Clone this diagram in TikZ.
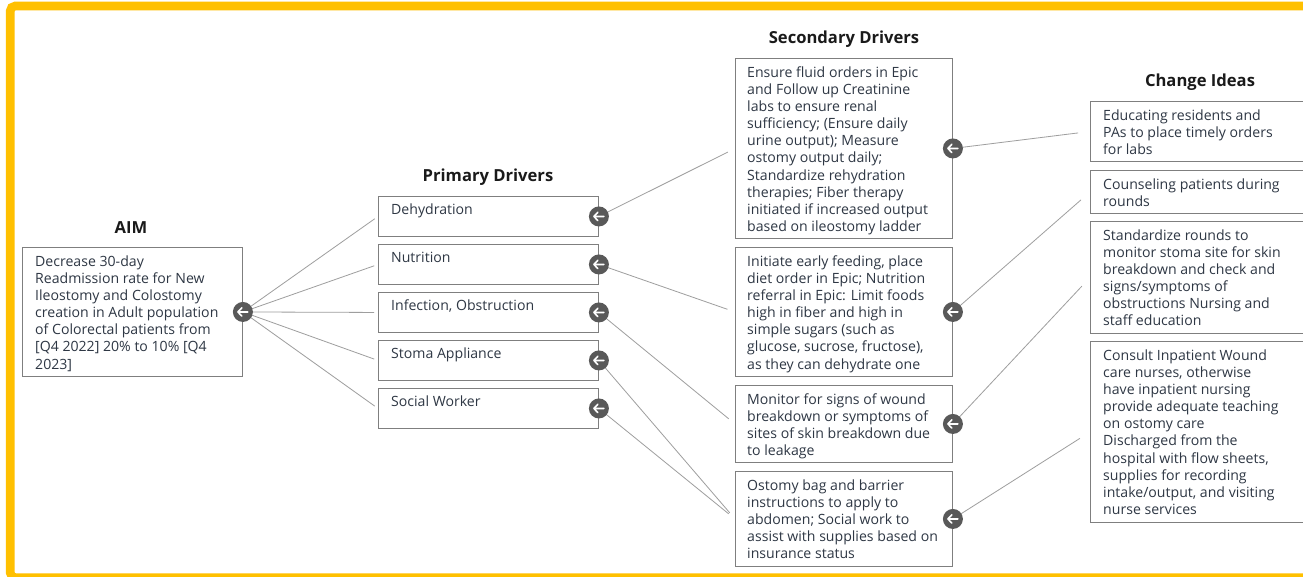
\documentclass[tikz,border=0pt]{standalone}
\usepackage{fontspec}
\setmainfont{Open Sans}
\usetikzlibrary{calc}
\definecolor{frameyellow}{HTML}{FFC000}
\definecolor{boxgray}{HTML}{7F7F7F}
\definecolor{linegray}{HTML}{9E9E9E}
\definecolor{dotgray}{HTML}{595959}
\definecolor{bodytext}{HTML}{2E3744}
\definecolor{headtext}{HTML}{1A1A1A}
\tikzset{
  box/.style={draw=boxgray, line width=0.9pt, fill=white, rectangle, inner sep=0pt, anchor=north west},
  txt/.style={anchor=north west, inner sep=0pt, align=left, text=bodytext, font=\fontsize{14.1}{17.1}\selectfont, execute at begin node=\strut},
  head/.style={anchor=center, inner sep=0pt, text=headtext, font=\fontsize{16.6}{19}\selectfont\bfseries},
  conn/.style={draw=linegray, line width=0.8pt},
  dot/.style={circle, fill=dotgray, minimum size=20pt, inner sep=0pt,
    path picture={
      \draw[white, line width=1.6pt, line cap=round, line join=round]
        ([xshift=5pt]path picture bounding box.center) -- ([xshift=-5pt]path picture bounding box.center)
        ([xshift=-1pt,yshift=4.2pt]path picture bounding box.center) -- ([xshift=-5pt]path picture bounding box.center) -- ([xshift=-1pt,yshift=-4.2pt]path picture bounding box.center);
    }},
}
\begin{document}
\begin{tikzpicture}[x=1pt,y=-1pt]
\useasboundingbox (0,0) rectangle (1303,576);
\clip (0,0) rectangle (1303,576);
\fill[white] (0,0) rectangle (1303,576);
% frame
\draw[frameyellow, line width=8.6pt, rounded corners=5pt] (1320,6) -- (10.2,6) -- (10.2,577.6) -- (1320,577.6);

% headings
\node[head] (haim) at (131,228) {AIM};
\node[head] (hprim) at (488,177) {Primary Drivers};
\node[head] (hsec) at (844,39) {Secondary Drivers};
\node[head] (hchg) at (1200,82) {Change Ideas};

% AIM box
\node[box, minimum width=220pt, minimum height=129pt] (aim) at (22,247) {};
\node[txt] (aimt) at ($(aim.north west)+(13,8.5)$) {Decrease 30-day\\Readmission rate for New\\Ileostomy and Colostomy\\creation in Adult population\\of Colorectal patients from\\{[Q4 2022]} 20\% to 10\% [Q4\\2023]};

% primary drivers
\node[box, minimum width=220pt, minimum height=40pt] (p1) at (378,196) {};
\node[box, minimum width=220pt, minimum height=40pt] (p2) at (378,244) {};
\node[box, minimum width=220pt, minimum height=40pt] (p3) at (378,292) {};
\node[box, minimum width=220pt, minimum height=40pt] (p4) at (378,340) {};
\node[box, minimum width=220pt, minimum height=40pt] (p5) at (378,388) {};
\node[txt] (p1t) at ($(p1.north west)+(13,6.5)$) {Dehydration};
\node[txt] (p2t) at ($(p2.north west)+(13,6.5)$) {Nutrition};
\node[txt] (p3t) at ($(p3.north west)+(13,6.5)$) {Infection, Obstruction};
\node[txt] (p4t) at ($(p4.north west)+(13,6.5)$) {Stoma Appliance};
\node[txt] (p5t) at ($(p5.north west)+(13,6.5)$) {Social Worker};

% secondary drivers
\node[box, minimum width=217pt, minimum height=180pt] (s1) at (735,58) {};
\node[box, minimum width=217pt, minimum height=129pt] (s2) at (735,247) {};
\node[box, minimum width=217pt, minimum height=77pt] (s3) at (735,385) {};
\node[box, minimum width=217pt, minimum height=95pt] (s4) at (735,471) {};
\node[txt] (s1t) at ($(s1.north west)+(12,8.5)$) {Ensure fluid orders in Epic\\and Follow up Creatinine\\labs to ensure renal\\sufficiency; (Ensure daily\\urine output); Measure\\ostomy output daily;\\Standardize rehydration\\therapies; Fiber therapy\\initiated if increased output\\based on ileostomy ladder};
\node[txt] (s2t) at ($(s2.north west)+(12,8.5)$) {Initiate early feeding, place\\diet order in Epic; Nutrition\\referral in Epic: Limit foods\\high in fiber and high in\\simple sugars (such as\\glucose, sucrose, fructose),\\as they can dehydrate one};
\node[txt] (s3t) at ($(s3.north west)+(12,8.5)$) {Monitor for signs of wound\\breakdown or symptoms of\\sites of skin breakdown due\\to leakage};
\node[txt] (s4t) at ($(s4.north west)+(12,8.5)$) {Ostomy bag and barrier\\instructions to apply to\\abdomen; Social work to\\assist with supplies based on\\insurance status};

% change ideas
\node[box, minimum width=230pt, minimum height=60pt] (c1) at (1090,101) {};
\node[box, minimum width=230pt, minimum height=43pt] (c2) at (1090,170) {};
\node[box, minimum width=230pt, minimum height=112pt] (c3) at (1090,221) {};
\node[box, minimum width=230pt, minimum height=181pt] (c4) at (1090,341) {};
\node[txt] (c1t) at ($(c1.north west)+(13,8.5)$) {Educating residents and\\PAs to place timely orders\\for labs};
\node[txt] (c2t) at ($(c2.north west)+(13,8.5)$) {Counseling patients during\\rounds};
\node[txt] (c3t) at ($(c3.north west)+(13,8.5)$) {Standardize rounds to\\monitor stoma site for skin\\breakdown and check and\\signs/symptoms of\\obstructions Nursing and\\staff education};
\node[txt] (c4t) at ($(c4.north west)+(13,8.5)$) {Consult Inpatient Wound\\care nurses, otherwise\\have inpatient nursing\\provide adequate teaching\\on ostomy care\\Discharged from the\\hospital with flow sheets,\\supplies for recording\\intake/output, and visiting\\nurse services};

% dot positions
\coordinate (aimd) at (aim.east);
\coordinate (p1d) at (p1.east);
\coordinate (p2d) at (p2.east);
\coordinate (p3d) at (p3.east);
\coordinate (p4d) at (p4.east);
\coordinate (p5d) at (p5.east);
\coordinate (s1d) at (s1.east);
\coordinate (s2d) at (s2.east);
\coordinate (s3d) at (s3.east);
\coordinate (s4d) at (s4.east);

% connectors
\foreach \p in {p1,p2,p3,p4,p5}{
  \draw[conn, shorten >=4pt] (aimd) -- (\p.west);
}
\draw[conn, shorten >=8pt] (p1d) -- (s1.west);
\draw[conn, shorten >=8pt] (p2d) -- (s2.west);
\draw[conn, shorten >=8pt] (p3d) -- (s3.west);
\draw[conn, shorten >=8pt] (p4d) -- (s4.west);
\draw[conn, shorten >=8pt] (p5d) -- (s4.west);
\draw[conn, shorten <=12pt] (c1.west) -- (s1d);
\draw[conn, shorten <=12pt] (c2.west) -- (s2d);
\draw[conn, shorten <=12pt] (c3.west) -- (s3d);
\draw[conn, shorten <=12pt] (c4.west) -- (s4d);

% arrow dots
\foreach \d in {aimd,p1d,p2d,p3d,p4d,p5d,s1d,s2d,s3d,s4d}{
  \node[dot] (\d-icon) at (\d) {};
}
\end{tikzpicture}
\end{document}
